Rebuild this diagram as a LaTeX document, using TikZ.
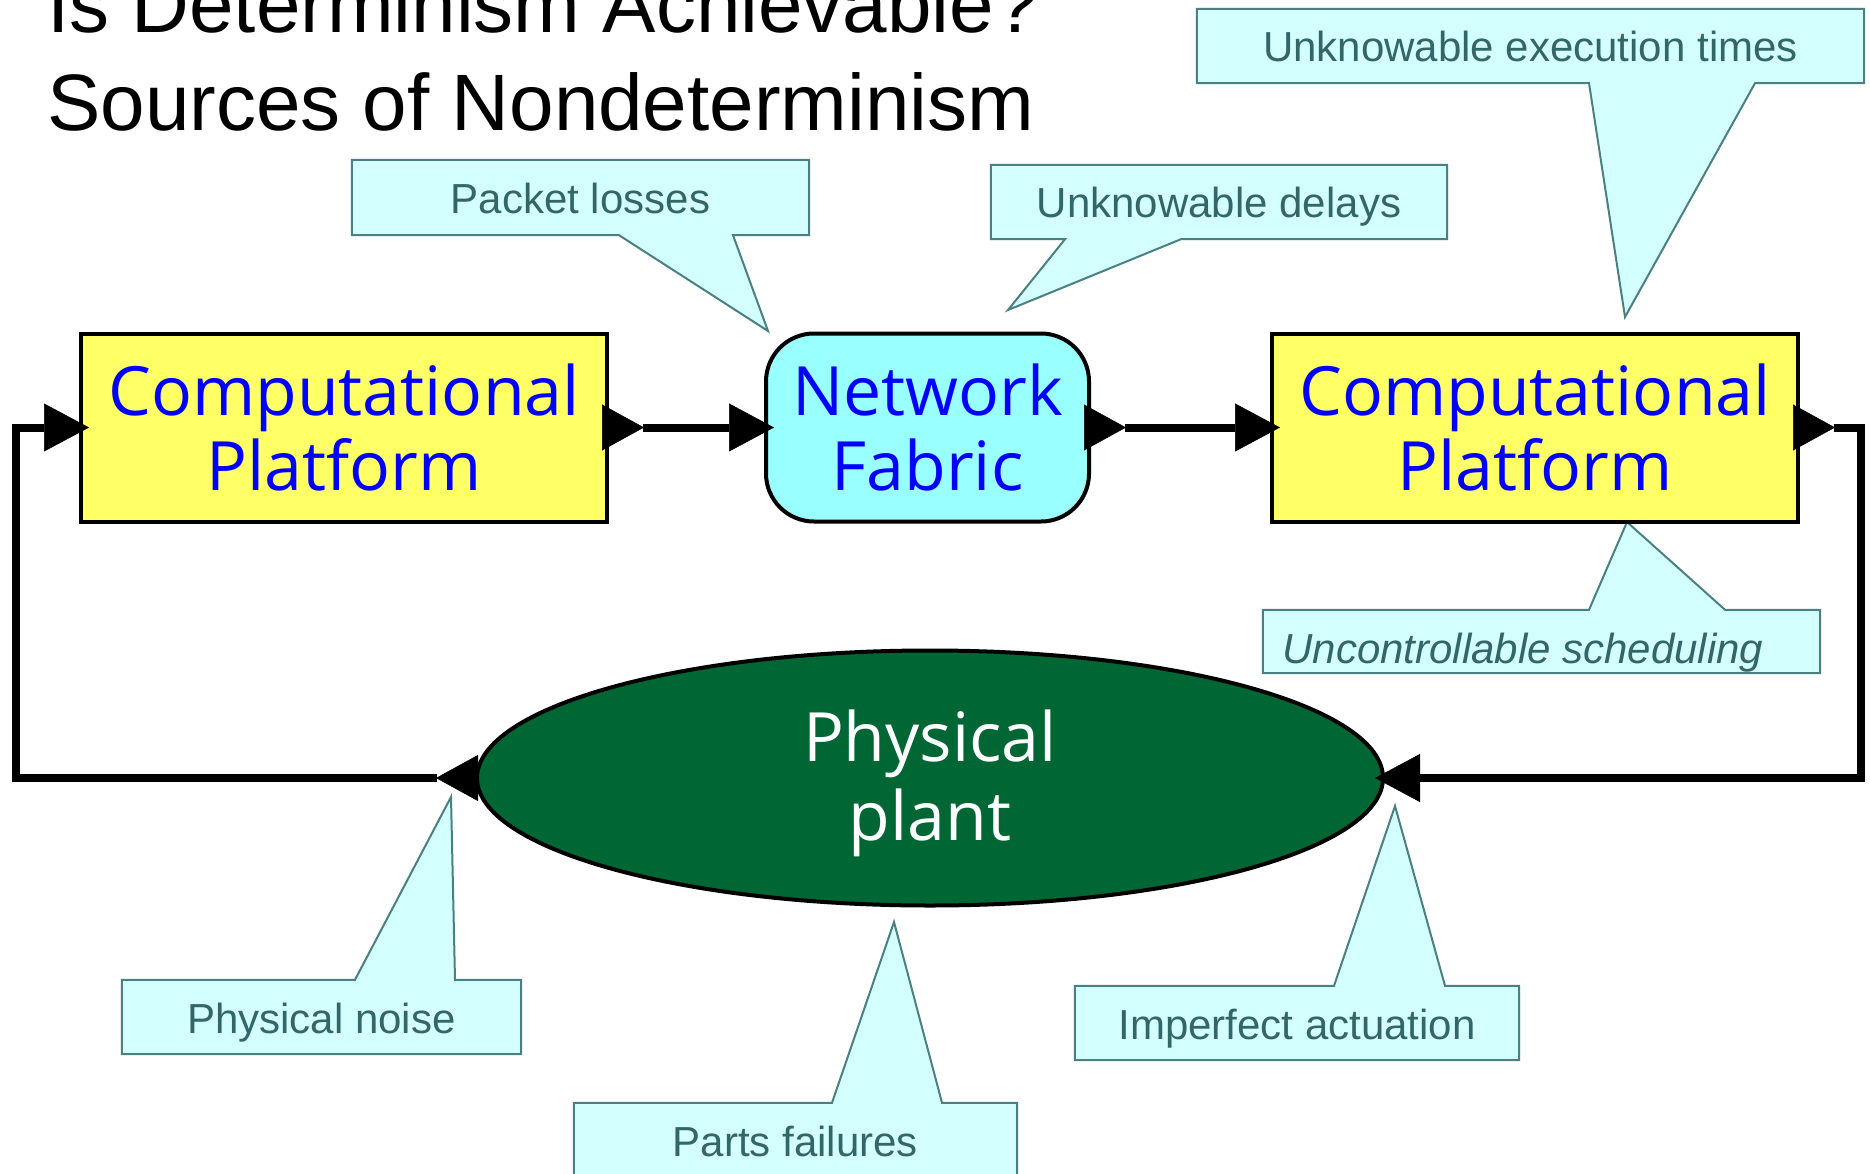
\documentclass[tikz,border=0pt]{standalone}
\usepackage{fontspec}
\setmainfont{Liberation Sans}
\newfontfamily\boxfont{Open Sans}
\usetikzlibrary{arrows.meta,shapes.geometric,backgrounds}
\definecolor{cpyellow}{HTML}{FFFF66}
\definecolor{nfcyan}{HTML}{99FFFF}
\definecolor{ppgreen}{HTML}{006633}
\definecolor{callfill}{HTML}{D4FFFF}
\definecolor{calledge}{HTML}{4A8080}
\definecolor{calltxt}{HTML}{336666}
\tikzset{
  outport/.tip={Triangle[reversed,length=42pt,width=46pt,line width=0.5pt]},
  inport/.tip={Triangle[length=45pt,width=48pt,line width=0.5pt]},
  blockbox/.style={draw=black, line width=4pt, fill=cpyellow, minimum width=526pt,
    minimum height=188pt, inner sep=0pt, align=center, text=blue,
    font=\boxfont\fontsize{68}{75}\selectfont},
  netbox/.style={blockbox, fill=nfcyan, minimum width=323pt, rounded corners=48pt},
  plantbox/.style={ellipse, draw=black, line width=4pt, fill=ppgreen, minimum width=906pt,
    minimum height=255pt, inner sep=0pt, align=center, text=white,
    font=\boxfont\fontsize{68}{79}\selectfont},
  conn/.style={draw=black, line width=8pt, line join=miter, outport-inport, shorten >=-10pt},
  callshape/.style={fill=callfill, draw=calledge, line width=2pt, line join=miter},
  calltext/.style={inner sep=0pt, text=calltxt, text height=41pt, text depth=9pt,
    font=\fontsize{42}{50}\selectfont},
  titletext/.style={anchor=base west, inner sep=0pt, font=\fontsize{80}{98}\selectfont}
}
\begin{document}
\begin{tikzpicture}[x=1pt,y=-1pt]
\useasboundingbox (0,0) rectangle (1870,1174);

% title
\node[titletext] (t1) at (47,33) {Is Determinism Achievable?};
\node[titletext] (t2) at (47,131) {Sources of Nondeterminism};

% main blocks
\node[blockbox] (cp1) at (344,427.5) {Computational\\Platform};
\node[netbox] (nf) at (927.5,427.5) {Network\\Fabric};
\node[blockbox] (cp2) at (1535,427.5) {Computational\\Platform};
\node[plantbox, text height=141pt, text depth=16pt] (pp) at (930,778) {Physical\\plant};

\coordinate (rc) at (1861,778);
\coordinate (lc) at (16,427.5);

% connectors
\draw[conn] ([xshift=-7pt]cp1.east) -- (nf.west);
\draw[conn] ([xshift=-7pt]nf.east) -- (cp2.west);
\draw[conn] ([xshift=-7pt]cp2.east) -| (rc) -- (pp.east);
\draw[conn] ([xshift=3pt]pp.west) -| (lc) -- (cp1.west);

% callouts
\node[calltext, minimum width=457pt, minimum height=75pt] (pl) at (580.5,197.5) {Packet losses};
\node[calltext, minimum width=456pt, minimum height=74pt] (ud) at (1219,202) {Unknowable delays};
\node[calltext, minimum width=667pt, minimum height=74pt] (ue) at (1530.5,46) {Unknowable execution times};
\node[calltext, minimum width=557pt, minimum height=63pt, text height=45pt, text depth=2pt,
  font=\fontsize{42}{50}\selectfont\itshape] (us) at (1541.5,641.5) {Uncontrollable scheduling\hspace*{37pt}};
\node[calltext, minimum width=399pt, minimum height=74pt] (pn) at (321.5,1017) {Physical noise};
\node[calltext, minimum width=443pt, minimum height=74pt] (pf) at (795.5,1140) {Parts failures};
\node[calltext, minimum width=444pt, minimum height=74pt] (ia) at (1297,1023) {Imperfect actuation};

\begin{scope}[on background layer]
\draw[callshape] (pl.north west) -- (pl.north east) -- (pl.south east)
  -- (733,0 |- pl.south) -- (768,331) -- (619,0 |- pl.south) -- (pl.south west) -- cycle;
\draw[callshape] (ud.north west) -- (ud.north east) -- (ud.south east)
  -- (1181,0 |- ud.south) -- (1008,310) -- (1065,0 |- ud.south) -- (ud.south west) -- cycle;
\draw[callshape] (ue.north west) -- (ue.north east) -- (ue.south east)
  -- (1755,0 |- ue.south) -- (1625,317) -- (1589,0 |- ue.south) -- (ue.south west) -- cycle;
\draw[callshape] (us.south west) -- (us.south east) -- (us.north east)
  -- (1725,0 |- us.north) -- (1627,522) -- (1589,0 |- us.north) -- (us.north west) -- cycle;
\draw[callshape] (pn.south west) -- (pn.south east) -- (pn.north east)
  -- (455,0 |- pn.north) -- (451,797) -- (355,0 |- pn.north) -- (pn.north west) -- cycle;
\draw[callshape] (pf.south west) -- (pf.south east) -- (pf.north east)
  -- (942,0 |- pf.north) -- (894,922) -- (832,0 |- pf.north) -- (pf.north west) -- cycle;
\draw[callshape] (ia.south west) -- (ia.south east) -- (ia.north east)
  -- (1445,0 |- ia.north) -- (1395,806) -- (1334,0 |- ia.north) -- (ia.north west) -- cycle;
\end{scope}
\end{tikzpicture}
\end{document}
